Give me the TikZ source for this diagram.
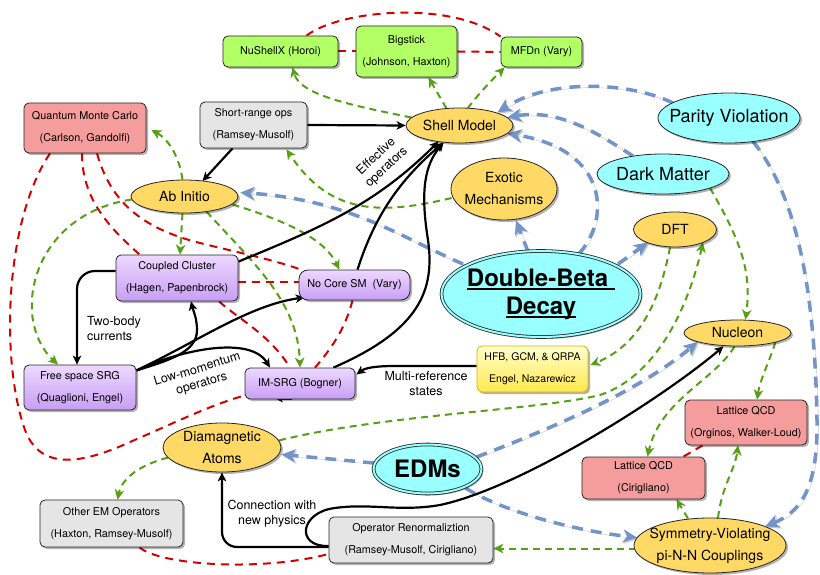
\documentclass[tikz,border=0pt]{standalone}
\usepackage{fontspec}
\setmainfont{TeX Gyre Heros}
\usetikzlibrary{shapes.geometric,arrows.meta,shadows,calc}
\pgfdeclarelayer{bg}
\pgfsetlayers{bg,main}
\definecolor{gfill}{HTML}{B2FF66}
\definecolor{rfill}{HTML}{F59C9C}
\definecolor{grayfill}{HTML}{E5E5E5}
\definecolor{ptop}{HTML}{EDD9FF}
\definecolor{pbot}{HTML}{C89EF5}
\definecolor{ofill}{HTML}{FFD966}
\definecolor{cfill}{HTML}{99FFFF}
\definecolor{ytop}{HTML}{FFFFCC}
\definecolor{ybot}{HTML}{FFE84D}
\definecolor{yborder}{HTML}{D9B300}
\definecolor{glin}{HTML}{55A014}
\definecolor{blin}{HTML}{7394C9}
\definecolor{rlin}{HTML}{D40000}
\newcommand\myul[1]{\setbox0\hbox{#1}\rlap{\rule[-3.5pt]{\wd0}{1.6pt}}\box0}
\begin{document}
\begin{tikzpicture}[x=1pt,y=-1pt,
  shad/.style={drop shadow={shadow xshift=2pt,shadow yshift=-2pt,opacity=0.3,fill=black}},
  box/.style={rectangle,rounded corners=5pt,draw=black!85,line width=0.8pt,align=center,inner sep=0pt,font=\fontsize{10.8}{22}\selectfont,shad},
  gbox/.style={box,fill=gfill},
  rbox/.style={box,fill=rfill},
  graybox/.style={box,fill=grayfill},
  pbox/.style={box,top color=ptop,bottom color=pbot},
  ybox/.style={box,top color=ytop,bottom color=ybot,draw=yborder},
  oell/.style={ellipse,draw=black!85,line width=0.8pt,fill=ofill,inner xsep=-20pt,inner ysep=-10pt,align=center,font=\fontsize{14}{22}\selectfont,shad},
  cell/.style={ellipse,draw=black!85,line width=0.8pt,fill=cfill,inner xsep=-20pt,inner ysep=-10pt,align=center,font=\fontsize{18}{22}\selectfont,shad},
  dell/.style={cell,double=cfill,double distance=2pt,inner xsep=-40pt,inner ysep=-20pt,font=\fontsize{24}{28}\selectfont\bfseries},
  blk/.style={draw=black,line width=2.2pt,-{Stealth[length=9pt,width=8.5pt,inset=2.5pt]}},
  grn/.style={draw=glin,line width=2pt,dash pattern=on 7pt off 5pt,-{Stealth[length=10pt,width=9.5pt,inset=3pt]}},
  blu/.style={draw=blin,line width=3.5pt,dash pattern=on 11pt off 8pt,-{Stealth[length=14pt,width=13pt,inset=4pt]},
    preaction={draw=black!22,transform canvas={xshift=1.3pt,yshift=-1.3pt}}},
  rd/.style={draw=rlin,line width=2pt,dash pattern=on 8pt off 6pt},
  lbl/.style={font=\fontsize{12.5}{15}\selectfont,align=center,inner sep=0pt}
]
\useasboundingbox (0,0) rectangle (820,575);
% nodes
\node[gbox,minimum width=115pt,minimum height=31pt] (nushell) at (280.5,51.5) {NuShellX (Horoi)};
\node[gbox,minimum width=101pt,minimum height=51pt] (bigstick) at (406.5,51.5) {Bigstick\\(Johnson, Haxton)};
\node[gbox,minimum width=81pt,minimum height=30pt] (mfdn) at (541.5,52) {MFDn (Vary)};
\node[rbox,minimum width=122pt,minimum height=50pt] (qmc) at (85,128) {Quantum Monte Carlo\\(Carlson, Gandolfi)};
\node[graybox,minimum width=107pt,minimum height=46pt] (sro) at (253.5,125) {Short-range ops\\(Ramsey-Musolf)};
\node[oell,minimum width=107pt,minimum height=35pt] (shell) at (459.5,125.5) {Shell Model};
\node[cell,minimum width=142pt,minimum height=50pt] (pv) at (729,118) {Parity Violation};
\node[cell,minimum width=132pt,minimum height=40pt] (dm) at (663,174) {Dark Matter};
\node[oell,minimum width=107pt,minimum height=33pt] (abinitio) at (184.5,196.5) {Ab Initio};
\node[oell,minimum width=106pt,minimum height=62pt] (exotic) at (504,189) {Exotic\\Mechanisms};
\node[oell,minimum width=83pt,minimum height=35pt] (dft) at (675,229.5) {DFT};
\node[dell,minimum width=199pt,minimum height=86pt] (dbd) at (541,294) {\myul{Double-Beta\ }\\\myul{Decay}};
\node[pbox,minimum width=122pt,minimum height=46pt] (cc) at (177,278) {Coupled Cluster\\(Hagen, Papenbrock)};
\node[pbox,rounded corners=9pt,minimum width=111pt,minimum height=30pt] (ncsm) at (354.5,285) {No Core SM~ (Vary)};
\node[pbox,minimum width=112pt,minimum height=45pt] (fsrg) at (80,387.5) {Free space SRG\\(Quaglioni, Engel)};
\node[pbox,minimum width=110pt,minimum height=31pt] (imsrg) at (300,383.5) {IM-SRG (Bogner)};
\node[ybox,minimum width=111pt,minimum height=46pt,font=\fontsize{10.5}{22}\selectfont] (hfb) at (532.5,369) {HFB, GCM, \& QRPA\\Engel, Nazarewicz};
\node[oell,minimum width=107pt,minimum height=26pt] (nucleon) at (737.5,333) {Nucleon};
\node[rbox,minimum width=122pt,minimum height=45pt] (lqcd1) at (746,422.5) {Lattice QCD\\(Orginos, Walker-Loud)};
\node[rbox,minimum width=123pt,minimum height=42pt] (lqcd2) at (643.5,478) {Lattice QCD\\(Cirigliano)};
\node[oell,minimum width=118pt,minimum height=49pt] (dia) at (222,447.5) {Diamagnetic\\Atoms};
\node[dell,minimum width=108pt,minimum height=49pt] (edm) at (427.5,469) {EDMs};
\node[graybox,minimum width=143pt,minimum height=47pt] (otherem) at (111.5,523.5) {Other EM Operators\\(Haxton, Ramsey-Musolf)};
\node[graybox,minimum width=164pt,minimum height=46pt] (oprenorm) at (411,540) {Operator Renormaliztion\\(Ramsey-Musolf, Cirigliano)};
\node[oell,minimum width=152pt,minimum height=55pt] (sv) at (710,545.5) {Symmetry-Violating\\pi-N-N Couplings};
% labels
\node[lbl,rotate=43] (leff) at (381.5,162) {Effective\\operators};
\node[lbl,align=left,anchor=west] (ltwo) at (87,328.5) {Two-body\\currents};
\node[lbl,rotate=17] (llow) at (199.5,377) {Low-momentum\\operators};
\node[lbl] (lmulti) at (426,384) {Multi-reference\\states};
\node[lbl] (lconn) at (272,514) {Connection with\\new physics};
\begin{pgfonlayer}{bg}
\fill[white] (0,0) rectangle (820,575);
% red
\draw[rd] ($(nushell.north)+(26,0)$) .. controls (340,10) and (450,0) .. (mfdn.north west);
\draw[rd] (nushell.east) -- (bigstick.west);
\draw[rd] (bigstick.east) -- (mfdn.west);
\draw[rd] ($(qmc.south)+(-35,0)$) .. controls (5,220) and (0,360) .. (25,430) .. controls (40,470) and (80,465) .. (130,442) .. controls (170,425) and (210,405) .. ($(imsrg.west)+(0,12)$);
\draw[rd] ($(qmc.south)+(-3,0)$) .. controls (82,200) and (110,228) .. ($(cc.north west)+(24,0)$);
\draw[rd] ($(qmc.south)+(12,0)$) .. controls (110,200) and (140,228) .. (200,243) .. controls (240,253) and (275,260) .. ($(ncsm.north west)+(5,1)$);
\draw[rd] ($(cc.east)+(0,4)$) -- ($(ncsm.west)+(0,-3)$);
\draw[rd] ($(cc.south)+(42,0)$) .. controls (240,320) and (270,335) .. ($(imsrg.north)+(-10,0)$);
\draw[rd] ($(ncsm.south)+(-2,0)$) .. controls (345,330) and (330,350) .. ($(imsrg.north)+(15,0)$);
\draw[rd] ($(otherem.south)+(28,0)$) .. controls (160,565) and (260,572) .. ($(oprenorm.west)+(0,14)$);
\draw[rd] ($(lqcd1.south west)+(18,0)$) -- ($(lqcd2.north east)+(-22,0)$);
% green
\draw[grn] ($(shell.center)+(-48,-8)$) .. controls (350,105) and (300,95) .. ($(nushell.south)+(12,0)$);
\draw[grn] ($(shell.center)+(-13,-17)$) -- ($(bigstick.south)+(22,0)$);
\draw[grn] ($(shell.center)+(8,-17)$) .. controls (480,92) and (492,80) .. ($(mfdn.south west)+(4,0)$);
\draw[grn] ($(abinitio.north)+(-2,0)$) .. controls (180,160) and (170,140) .. ($(qmc.east)+(5,2)$);
\draw[grn] ($(abinitio.south)+(-2,0)$) -- ($(cc.north)+(3,0)$);
\draw[grn] ($(abinitio.center)+(48,8)$) .. controls (290,222) and (325,240) .. ($(ncsm.north)+(-15,0)$);
\draw[grn] ($(abinitio.center)+(22,15)$) .. controls (250,260) and (298,300) .. (imsrg.north);
\draw[grn] ($(abinitio.west)+(1,3)$) .. controls (30,215) and (10,320) .. ($(fsrg.north)+(-22,0)$);
\draw[grn] ($(exotic.west)+(1,9)$) .. controls (380,215) and (330,215) .. ($(sro.south)+(33,1)$);
\draw[grn] ($(dm.center)+(47,14)$) .. controls (740,240) and (752,270) .. ($(nucleon.north)+(8,0)$);
\draw[grn] ($(dft.south)+(-5,0)$) .. controls (660,300) and (640,345) .. ($(hfb.east)+(2,-4)$);
\draw[grn] ($(dia.center)+(57,-7)$) .. controls (380,415) and (540,410) .. (600,395) .. controls (660,375) and (690,300) .. ($(dft.south)+(28,-5)$);
\draw[grn] ($(nucleon.south)+(-3,0)$) .. controls (715,380) and (660,400) .. ($(lqcd2.north)+(4,0)$);
\draw[grn] ($(nucleon.center)+(38,9)$) .. controls (768,365) and (760,380) .. ($(lqcd1.north)+(11,0)$);
\draw[grn] ($(sv.center)+(-22,-27)$) -- ($(lqcd2.south)+(33,0)$);
\draw[grn] ($(sv.center)+(8,-27.5)$) .. controls (722,485) and (735,470) .. ($(lqcd1.south)+(-8,0)$);
\draw[grn] ($(sv.west)+(2,3)$) -- ($(oprenorm.east)+(0,8.5)$);
\draw[grn] ($(dia.center)+(-54,10)$) .. controls (140,465) and (122,478) .. ($(otherem.north)+(6,0)$);
% blue
\draw[blu] ($(dbd.center)+(-78,-30)$) .. controls (400,237) and (350,200) .. ($(abinitio.east)+(2,-4)$);
\draw[blu] ($(dbd.north)+(-13,1)$) -- ($(exotic.south)+(12,0)$);
\draw[blu] ($(dbd.north)+(38,3)$) .. controls (610,220) and (610,150) .. ($(shell.center)+(48,8)$);
\draw[blu] ($(dbd.center)+(77,-30)$) -- ($(dft.south)+(-27,-5)$);
\draw[blu] ($(dm.center)+(-30,-18)$) .. controls (600,135) and (560,108) .. ($(shell.east)+(-6,-8)$);
\draw[blu] ($(pv.center)+(-56,-15)$) .. controls (630,82) and (550,78) .. ($(shell.center)+(38,-13)$);
\draw[blu] ($(pv.center)+(24,23.5)$) .. controls (800,200) and (815,300) .. (817,420) .. controls (818,490) and (800,512) .. ($(sv.center)+(55,-19)$);
\draw[blu] ($(edm.west)+(1,-6)$) -- ($(dia.east)+(0,7)$);
\draw[blu] ($(edm.center)+(49,-12)$) .. controls (560,425) and (640,390) .. ($(nucleon.center)+(-40,9)$);
\draw[blu] ($(edm.center)+(38,19)$) .. controls (500,510) and (570,530) .. ($(sv.center)+(-73,-8)$);
% black
\draw[blk] (sro.east) -- (shell.west);
\draw[blk] ($(sro.south)+(-21,0)$) -- ($(abinitio.north)+(18,1.5)$);
\draw[blk] ($(cc.north east)+(0,7)$) .. controls (320,228) and (375,205) .. ($(shell.center)+(-21,16)$);
\draw[blk] ($(ncsm.north)+(3,0)$) .. controls (375,215) and (400,180) .. ($(shell.center)+(-16,17)$);
\draw[blk] ($(imsrg.north east)+(-22,0)$) .. controls (420,330) and (435,290) .. (428,240) .. controls (420,190) and (425,165) .. ($(shell.center)+(-16,17)$);
\draw[blk,rounded corners=18pt] ($(cc.west)+(0,-7)$) -| ($(fsrg.north)+(-3,0)$);
\draw[blk] ($(fsrg.east)+(0,-17)$) .. controls (170,360) and (197,352) .. (197,330) .. controls (197,318) and (193,310) .. ($(cc.south)+(14,0)$);
\draw[blk] ($(fsrg.east)+(0,-17)$) .. controls (200,340) and (250,305) .. ($(ncsm.south west)+(6,-3)$);
\draw[blk] ($(fsrg.east)+(0,-17)$) .. controls (180,350) and (250,335) .. ($(imsrg.north)+(-30,0)$);
\draw[blk] ($(hfb.west)+(0,-3)$) -- (395,366) .. controls (375,366) and (365,368) .. ($(imsrg.east)+(1,-9)$);
\draw[blk,line width=1pt,-{Stealth[length=6pt,width=6pt]}] ($(imsrg.south)+(-8,0)$) -- ($(imsrg.south)+(-23,0)$);
\draw[blk,rounded corners=15pt] ($(oprenorm.west)+(0,7)$) -| (dia.south);
\draw[blk] ($(oprenorm.west)+(0,6)$) .. controls (295,547) and (300,512) .. (335,508) .. controls (370,503) and (400,512) .. (440,505) .. controls (520,488) and (660,400) .. ($(nucleon.south)+(-14,0)$);
\end{pgfonlayer}
\end{tikzpicture}
\end{document}
